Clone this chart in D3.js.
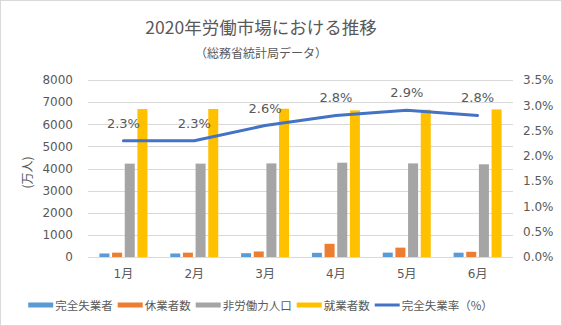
<!DOCTYPE html>
<html><head><meta charset="utf-8">
<script src="https://cdn.jsdelivr.net/npm/d3@7"></script>
<style>body{margin:0;background:#fff}svg{display:block}</style>
</head><body>
<svg id="c" width="562" height="326"></svg>
<script>
const months = ["1月","2月","3月","4月","5月","6月"];
const seriesNames = ["完全失業者","休業者数","非労働力人口","就業者数"];
const unemployed = [159,159,172,189,198,195];
const onLeave = [196,196,249,597,423,236];
const notInLabor = [4220,4220,4230,4262,4230,4190];
const employed = [6687,6691,6700,6628,6656,6670];
const unempRate = [2.3,2.3,2.6,2.8,2.9,2.8];
const lineName = "完全失業率（%）";
const leftTicks = [0,1000,2000,3000,4000,5000,6000,7000,8000];
const rightTicks = [0,0.5,1.0,1.5,2.0,2.5,3.0,3.5];
const title = "2020年労働市場における推移";
const subtitle = "（総務省統計局データ）";
const yTitle = "(万人)";

const colors = ["#5B9BD5","#ED7D31","#A5A5A5","#FFC000"];
const lineColor = "#4472C4";
const textColor = "#595959";
const font = "'DejaVu Sans','Noto Sans CJK JP',sans-serif";
const cjk = "'Noto Sans CJK JP',sans-serif";

const svg = d3.select("#c");
svg.append("rect").attr("x",0.5).attr("y",0.5).attr("width",561).attr("height",325)
  .attr("fill","#fff").attr("stroke","#d9d9d9");

const L=88,R=513,T=80,B=257;
const x = d3.scaleBand().domain(months).range([L,R]);
const yL = d3.scaleLinear().domain([0,8000]).range([B,T]);
const yR = d3.scaleLinear().domain([0,3.5]).range([B,T]);
const x1 = d3.scaleBand().domain(seriesNames).range([-24,24]).paddingInner(0.21);

svg.append("text").attr("x",261).attr("y",34).attr("text-anchor","middle")
  .attr("font-family",cjk).attr("font-size",17.5).attr("fill",textColor).text(title);
svg.append("text").attr("x",261).attr("y",58).attr("text-anchor","middle")
  .attr("font-family",cjk).attr("font-size",12).attr("fill",textColor).text(subtitle);

// gridlines
svg.append("g").selectAll("line").data(leftTicks).join("line")
  .attr("x1",L).attr("x2",R).attr("y1",d=>Math.round(yL(d))+0.5).attr("y2",d=>Math.round(yL(d))+0.5)
  .attr("stroke","#d9d9d9").attr("stroke-width",1);

// left axis
const gL = svg.append("g").attr("transform",`translate(${L},0)`)
  .call(d3.axisLeft(yL).tickValues(leftTicks).tickSize(0).tickPadding(15).tickFormat(d3.format("d")));
gL.select(".domain").remove();
gL.selectAll("text").attr("font-family",font).attr("font-size",12).attr("fill",textColor);

// right axis
const gR = svg.append("g").attr("transform",`translate(${R},0)`)
  .call(d3.axisRight(yR).tickValues(rightTicks).tickSize(0).tickPadding(10).tickFormat(d=>d.toFixed(1)+"%"));
gR.select(".domain").remove();
gR.selectAll("text").attr("font-family",font).attr("font-size",12).attr("fill",textColor);

// bottom axis
const gB = svg.append("g").attr("transform",`translate(0,${B})`)
  .call(d3.axisBottom(x).tickSize(0).tickPadding(12));
gB.select(".domain").remove();
gB.selectAll("text").attr("font-family",font).attr("font-size",12).attr("fill",textColor);

// y title
svg.append("text").attr("transform",`translate(32,${(T+B)/2+4}) rotate(-90)`).attr("text-anchor","middle")
  .attr("font-family",cjk).attr("font-size",12).attr("fill",textColor).text(yTitle);

// bars
const allSeries = [unemployed,onLeave,notInLabor,employed];
const barData = [];
months.forEach((m,i)=>allSeries.forEach((s,j)=>barData.push({m,name:seriesNames[j],v:s[i],c:colors[j]})));
svg.append("g").selectAll("rect").data(barData).join("rect")
  .attr("x",d=>x(d.m)+x.bandwidth()/2+x1(d.name))
  .attr("width",x1.bandwidth())
  .attr("y",d=>yL(d.v)).attr("height",d=>B-yL(d.v)).attr("fill",d=>d.c);

// line
const line = d3.line().x((d,i)=>x(months[i])+x.bandwidth()/2).y(d=>yR(d));
svg.append("path").datum(unempRate).attr("d",line).attr("fill","none")
  .attr("stroke",lineColor).attr("stroke-width",3).attr("stroke-linejoin","round").attr("stroke-linecap","round");

svg.append("g").selectAll("text").data(unempRate).join("text")
  .attr("x",(d,i)=>x(months[i])+x.bandwidth()/2).attr("y",d=>yR(d)-13)
  .attr("text-anchor","middle").attr("font-family",font).attr("font-size",13).attr("fill",textColor)
  .text(d=>d.toFixed(1)+"%");

// legend
const items = seriesNames.map((n,i)=>({n,c:colors[i],type:"rect"})).concat([{n:lineName,c:lineColor,type:"line"}]);
const lg = svg.append("g");
let cx = 0;
const ly = 305;
const gap = 5;
items.forEach((it,i)=>{
  const g = lg.append("g").attr("transform",`translate(${cx},0)`);
  if(it.type==="rect") g.append("rect").attr("x",0).attr("y",ly-2.5).attr("width",25).attr("height",5).attr("fill",it.c);
  else g.append("line").attr("x1",0).attr("x2",25).attr("y1",ly).attr("y2",ly).attr("stroke",it.c).attr("stroke-width",3);
  const t = g.append("text").attr("x",27).attr("y",ly+4.5).attr("font-family",cjk).attr("font-size",11.5)
    .attr("fill",textColor).text(it.n);
  cx += 27 + t.node().getComputedTextLength() + gap;
});
const total = cx - gap;
lg.attr("transform",`translate(${260.5-total/2},0)`);
</script>
</body></html>
